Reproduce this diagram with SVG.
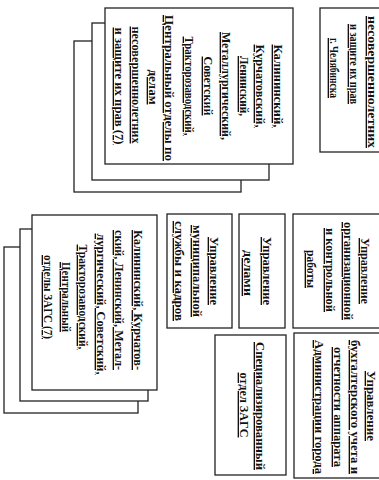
<svg xmlns="http://www.w3.org/2000/svg" width="379" height="480" viewBox="0 0 379 480">
<style>
.box{fill:#fff;stroke:#222;stroke-width:1.3}
.t{font-family:"Liberation Serif","Times New Roman",serif;font-weight:bold;font-size:13.5px;fill:#111;text-anchor:middle;text-decoration:underline}
</style>
<rect width="379" height="480" fill="#fff"/>
<g id="connectors"></g>
<g id="node-district-commissions">
<rect class="box" x="74" y="41" width="167" height="151"/>
<rect class="box" x="92" y="23" width="177" height="157"/>
<rect class="box" x="105" y="8" width="188" height="156"/>
<text class="t" transform="translate(274,86) rotate(90)" textLength="83" lengthAdjust="spacingAndGlyphs">Калининский,</text>
<text class="t" transform="translate(256,86) rotate(90)" textLength="83" lengthAdjust="spacingAndGlyphs">Курчатовский,</text>
<text class="t" transform="translate(240,86) rotate(90)" textLength="60" lengthAdjust="spacingAndGlyphs">Ленинский,</text>
<text class="t" transform="translate(222,86) rotate(90)" textLength="108" lengthAdjust="spacingAndGlyphs">Металлургический,</text>
<text class="t" transform="translate(204,86) rotate(90)" textLength="59" lengthAdjust="spacingAndGlyphs">Советский</text>
<text class="t" transform="translate(185,86) rotate(90)" textLength="99" lengthAdjust="spacingAndGlyphs">Тракторозаводский,</text>
<text class="t" transform="translate(165,88) rotate(90)" textLength="146" lengthAdjust="spacingAndGlyphs">Центральный отделы по</text>
<text class="t" transform="translate(149,87) rotate(90)" textLength="35" lengthAdjust="spacingAndGlyphs">делам</text>
<text class="t" transform="translate(132,85) rotate(90)" textLength="117" lengthAdjust="spacingAndGlyphs">несовершеннолетних</text>
<text class="t" transform="translate(115,86) rotate(90)" textLength="117" lengthAdjust="spacingAndGlyphs">и защите их прав (7)</text>
</g>
<g id="node-city-commission">
<rect class="box" x="320" y="8" width="70" height="144"/>
<text class="t" transform="translate(368,82) rotate(90)" textLength="132" lengthAdjust="spacingAndGlyphs">несовершеннолетних</text>
<text class="t" transform="translate(350,64) rotate(90)" textLength="80" lengthAdjust="spacingAndGlyphs">и защите их прав</text>
<text class="t" transform="translate(330,68) rotate(90)" textLength="60" lengthAdjust="spacingAndGlyphs">г. Челябинска</text>
</g>
<g id="node-district-zags">
<rect class="box" x="4" y="247" width="134" height="166"/>
<rect class="box" x="20" y="229" width="128" height="172"/>
<rect class="box" x="32" y="215" width="125" height="175"/>
<text class="t" transform="translate(134,300) rotate(90)" textLength="140" lengthAdjust="spacingAndGlyphs">Калининский, Курчатов-</text>
<text class="t" transform="translate(115,300) rotate(90)" textLength="140" lengthAdjust="spacingAndGlyphs">ский, Ленинский, Метал-</text>
<text class="t" transform="translate(97,304) rotate(90)" textLength="141" lengthAdjust="spacingAndGlyphs">лургический, Советский,</text>
<text class="t" transform="translate(79,297) rotate(90)" textLength="105" lengthAdjust="spacingAndGlyphs">Тракторозаводский,</text>
<text class="t" transform="translate(62,297) rotate(90)" textLength="70" lengthAdjust="spacingAndGlyphs">Центральный</text>
<text class="t" transform="translate(44,297) rotate(90)" textLength="84" lengthAdjust="spacingAndGlyphs">отделы ЗАГС (7)</text>
</g>
<g id="node-personnel">
<rect class="box" x="167" y="214" width="65" height="114"/>
<text class="t" transform="translate(210,271) rotate(90)" textLength="68" lengthAdjust="spacingAndGlyphs">Управление</text>
<text class="t" transform="translate(193,271) rotate(90)" textLength="92" lengthAdjust="spacingAndGlyphs">муниципальной</text>
<text class="t" transform="translate(175,271) rotate(90)" textLength="100" lengthAdjust="spacingAndGlyphs">службы и кадров</text>
</g>
<g id="node-affairs">
<rect class="box" x="239" y="214" width="46" height="114"/>
<text class="t" transform="translate(263,271) rotate(90)" textLength="68" lengthAdjust="spacingAndGlyphs">Управление</text>
<text class="t" transform="translate(244,273) rotate(90)" textLength="46" lengthAdjust="spacingAndGlyphs">делами</text>
</g>
<g id="node-org-control">
<rect class="box" x="293" y="214" width="95" height="114"/>
<text class="t" transform="translate(361,271) rotate(90)" textLength="66" lengthAdjust="spacingAndGlyphs">Управление</text>
<text class="t" transform="translate(344,271) rotate(90)" textLength="98" lengthAdjust="spacingAndGlyphs">организационной</text>
<text class="t" transform="translate(326,270) rotate(90)" textLength="84" lengthAdjust="spacingAndGlyphs">и контрольной</text>
<text class="t" transform="translate(307,269) rotate(90)" textLength="38" lengthAdjust="spacingAndGlyphs">работы</text>
</g>
<g id="node-zags">
<rect class="box" x="215" y="335" width="71" height="140"/>
<text class="t" transform="translate(256,406) rotate(90)" textLength="128" lengthAdjust="spacingAndGlyphs">Специализированный</text>
<text class="t" transform="translate(240,405) rotate(90)" textLength="65" lengthAdjust="spacingAndGlyphs">отдел ЗАГС</text>
</g>
<g id="node-accounting">
<rect class="box" x="294" y="333" width="95" height="145"/>
<text class="t" transform="translate(367,406) rotate(90)" textLength="70" lengthAdjust="spacingAndGlyphs">Управление</text>
<text class="t" transform="translate(351,407) rotate(90)" textLength="134" lengthAdjust="spacingAndGlyphs">бухгалтерского учета и</text>
<text class="t" transform="translate(334,407) rotate(90)" textLength="120" lengthAdjust="spacingAndGlyphs">отчетности аппарата</text>
<text class="t" transform="translate(315,407) rotate(90)" textLength="134" lengthAdjust="spacingAndGlyphs">Администрации города</text>
</g>
</svg>
